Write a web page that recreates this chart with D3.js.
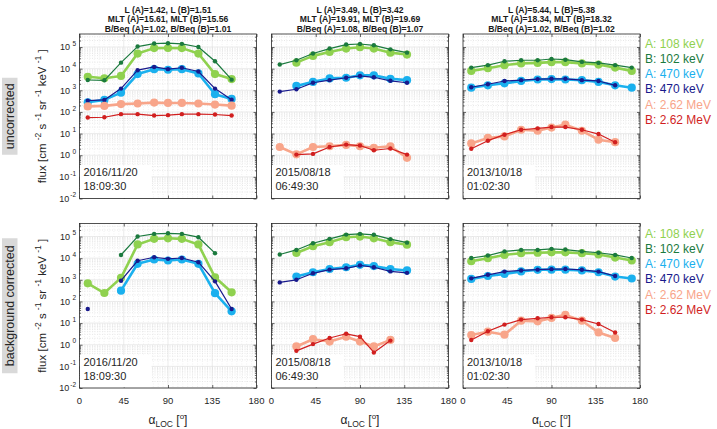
<!DOCTYPE html>
<html>
<head>
<meta charset="utf-8">
<script src="https://cdn.jsdelivr.net/npm/d3@7"></script>
<style>
  body { margin: 0; background: #fff; }
  text { font-family: "Liberation Sans", Arial, Helvetica, sans-serif; }
</style>
</head>
<body>
<div id="chart"></div>
<script>
// pitch angle bins [deg]
const pitchAngles = [8.4, 25.3, 42.2, 59.1, 75.9, 90, 104.1, 120.9, 137.8, 154.7, 171.6];

const seriesNames = ["A: 108 keV", "B: 102 keV", "A: 470 keV", "B: 470 keV", "A: 2.62 MeV", "B: 2.62 MeV"];
const seriesColors = ["#8fd14f", "#1b7a3e", "#1ab0ee", "#191a8c", "#f8a58a", "#d11f1f"];
const seriesProbe = ["A", "B", "A", "B", "A", "B"];

const xTicks = [0, 45, 90, 135, 180];
const yExponents = [-2, -1, 0, 1, 2, 3, 4, 5];

const titles = [
  ["L (A)=1.42, L (B)=1.51", "MLT (A)=15.61, MLT (B)=15.56", "B/Beq (A)=1.02, B/Beq (B)=1.01"],
  ["L (A)=3.49, L (B)=3.42", "MLT (A)=19.91, MLT (B)=19.69", "B/Beq (A)=1.08, B/Beq (B)=1.07"],
  ["L (A)=5.44, L (B)=5.38", "MLT (A)=18.34, MLT (B)=18.32", "B/Beq (A)=1.02, B/Beq (B)=1.02"]
];
const dates = [["2016/11/20", "18:09:30"], ["2015/08/18", "06:49:30"], ["2013/10/18", "01:02:30"]];
const rowLabels = ["uncorrected", "background corrected"];

// flux per series (rows in seriesNames order), null = no value
const uncorr2016 = [
  [4.2e3, 3.6e3, 4.6e3, 5.0e4, 8.9e4, 9.0e4, 8.9e4, 5.0e4, 5.6e3, 3.3e3],
  [3.0e3, 2.9e3, 1.9e4, 1.05e5, 1.45e5, 1.5e5, 1.4e5, 1.0e5, 2.2e4, 3.1e3],
  [280, 360, 780, 5.6e3, 9.5e3, 8.9e3, 9.5e3, 6.0e3, 660, 400],
  [330, 360, 1.2e3, 8.5e3, 1.2e4, 9.5e3, 1.1e4, 7.4e3, 1.2e3, 370],
  [180, 190, 230, 245, 270, 260, 260, 245, 220, 195],
  [55, 57, 79, 79, 68, 71, 79, 79, 76, 68]
];
const uncorr2015 = [
  [null, 1.9e4, 3.9e4, 5.9e4, 8.5e4, 9.8e4, 8.5e4, 5.5e4, 4.5e4],
  [1.55e4, 2.45e4, 5.0e4, 8.5e4, 1.3e5, 1.38e5, 1.2e5, 7.8e4, 5.5e4],
  [null, 1.6e3, 2.45e3, 3.55e3, 3.8e3, 4.9e3, 4.9e3, 3.4e3, 2.95e3],
  [870, 1.12e3, 2.24e3, 2.95e3, 3.8e3, 4.6e3, 4.0e3, 2.75e3, 2.24e3],
  [2.4, 1.1, 2.4, 2.6, 3.0, 2.6, 2.2, 2.6, 0.76],
  [null, 1.07, 1.15, 2.4, 3.1, 2.8, 1.7, 2.05, 1.07]
];
const uncorr2013 = [
  [7.9e3, 1.05e4, 1.45e4, 1.75e4, 1.85e4, 2.0e4, 2.0e4, 1.75e4, 1.55e4, 1.12e4, 7.9e3],
  [1.12e4, 1.45e4, 2.2e4, 2.45e4, 2.45e4, 2.8e4, 2.6e4, 2.05e4, 1.85e4, 1.45e4, 1.12e4],
  [1.32e3, 1.7e3, 2.1e3, 2.7e3, 3.15e3, 3.3e3, 3.15e3, 2.95e3, 2.45e3, 1.7e3, 1.32e3],
  [1.38e3, 1.9e3, 2.7e3, 2.95e3, 3.3e3, 3.4e3, 3.4e3, 2.95e3, 2.7e3, 1.7e3],
  [3.5, 6.3, 7.4, 15, 13.5, 19, 26, 13.5, 5.2, 4.0],
  [2.0, 4.7, 8.9, 15, 17.4, 20, 20, 15, 9.5, 4.0]
];
const corr2016 = [
  [690, 245, 1.23e3, 4.3e4, 7.8e4, 8.3e4, 7.8e4, 4.3e4, 1.3e3, 265],
  [null, null, 1.4e4, 1.0e5, 1.32e5, 1.41e5, 1.32e5, 9.3e4, 1.7e4],
  [null, null, 316, 5.5e3, 8.7e3, 7.8e3, 8.7e3, 5.5e3, 240, 35],
  [45, null, 910, 7.6e3, 1.1e4, 9.3e3, 1.02e4, 6.5e3, 850, 45],
  [],
  []
];
const corr2015 = [
  [null, 1.74e4, 3.55e4, 5.5e4, 9.3e4, 1.0e5, 8.3e4, 5.5e4, 4.2e4],
  [1.48e4, 2.4e4, 4.9e4, 7.8e4, 1.23e5, 1.32e5, 1.2e5, 7.6e4, 5.2e4],
  [null, 1.41e3, 2.24e3, 3.15e3, 3.8e3, 4.9e3, 4.3e3, 3.15e3, 2.7e3],
  [760, 1.0e3, 2.0e3, 2.95e3, 3.4e3, 4.6e3, 3.8e3, 2.45e3, 2.1e3],
  [null, 0.83, 1.8, 1.4, 2.35, 1.4, 0.83, 1.66],
  [null, 0.52, 1.07, 2.05, 3.2, 2.35, 0.44, 1.55]
];
const corr2013 = [
  [7.2e3, 1.0e4, 1.41e4, 1.7e4, 1.78e4, 1.86e4, 1.86e4, 1.7e4, 1.48e4, 1.07e4, 7.8e3],
  [1.02e4, 1.32e4, 2.05e4, 2.4e4, 2.4e4, 2.7e4, 2.5e4, 2.05e4, 1.78e4, 1.41e4, 1.02e4],
  [1.1e3, 1.5e3, 1.86e3, 2.45e3, 2.9e3, 2.95e3, 2.95e3, 2.7e3, 2.24e3, 1.41e3, 1.15e3],
  [1.17e3, 1.7e3, 2.4e3, 2.7e3, 2.95e3, 3.1e3, 3.15e3, 2.9e3, 2.4e3, 1.5e3],
  [2.8, 4.0, 2.9, 12.9, 12, 17.4, 24, 12.9, 3.7, 2.05],
  [1.66, 4.2, 8.5, 14.5, 16.6, 18.6, 18.6, 14.5, 9.1, 3.7]
];

const panels = [[uncorr2016, uncorr2015, uncorr2013], [corr2016, corr2015, corr2013]];

const width = 717, height = 429;
const colLeft = [79.5, 271.5, 463];
const panelW = 177;
const rowTop = [34, 223.5];
const panelH = 164.5;
const frameColor = "#262626";

const svg = d3.select("#chart").append("svg")
  .attr("width", width)
  .attr("height", height);

const x = d3.scaleLinear().domain([0, 180]).range([0, panelW]);
const y = d3.scaleLog().domain([1e-2, 4e5]).range([panelH, 0]);

const minorY = [];
yExponents.forEach(e => { for (let k = 2; k <= 9; k++) { const v = k * Math.pow(10, e); if (v < 4e5) minorY.push(v); } });
const minorX = d3.range(5, 180, 5).filter(v => v % 45 !== 0);

const line = d3.line()
  .defined(d => d.v != null)
  .x(d => x(d.a))
  .y(d => y(d.v));

panels.forEach((row, r) => {
  row.forEach((data, c) => {
    const g = svg.append("g").attr("transform", `translate(${colLeft[c]},${rowTop[r]})`);

    // minor grid
    g.append("g").selectAll("line").data(minorY).join("line")
      .attr("x1", 0).attr("x2", panelW)
      .attr("y1", d => y(d)).attr("y2", d => y(d))
      .attr("stroke", "#cfcfcf").attr("stroke-width", 0.5).attr("stroke-dasharray", "1,1.5");
    g.append("g").selectAll("line").data(minorX).join("line")
      .attr("y1", 0).attr("y2", panelH)
      .attr("x1", d => x(d)).attr("x2", d => x(d))
      .attr("stroke", "#e2e2e2").attr("stroke-width", 0.5).attr("stroke-dasharray", "1,1.5");

    // major grid
    g.append("g").selectAll("line").data(yExponents.map(e => Math.pow(10, e))).join("line")
      .attr("x1", 0).attr("x2", panelW)
      .attr("y1", d => y(d)).attr("y2", d => y(d))
      .attr("stroke", "#dedede").attr("stroke-width", 0.6);
    g.append("g").selectAll("line").data([45, 90, 135]).join("line")
      .attr("y1", 0).attr("y2", panelH)
      .attr("x1", d => x(d)).attr("x2", d => x(d))
      .attr("stroke", "#dedede").attr("stroke-width", 0.6);

    // ticks on all four sides, pointing inward
    const tickStyle = sel => {
      sel.select(".domain").remove();
      sel.selectAll("line").attr("stroke", frameColor).attr("stroke-width", 0.7);
      sel.selectAll("text").remove();
    };
    g.append("g").attr("transform", `translate(0,${panelH})`)
      .call(d3.axisBottom(x).tickValues(xTicks).tickSize(-3)).call(tickStyle);
    g.append("g")
      .call(d3.axisTop(x).tickValues(xTicks).tickSize(-3)).call(tickStyle);
    const yMajor = yExponents.map(e => Math.pow(10, e));
    g.append("g").call(d3.axisLeft(y).tickValues(yMajor).tickSize(-3)).call(tickStyle);
    g.append("g").attr("transform", `translate(${panelW},0)`)
      .call(d3.axisRight(y).tickValues(yMajor).tickSize(-3)).call(tickStyle);
    g.append("g").call(d3.axisLeft(y).tickValues(minorY).tickSize(-1.6)).call(tickStyle);
    g.append("g").attr("transform", `translate(${panelW},0)`)
      .call(d3.axisRight(y).tickValues(minorY).tickSize(-1.6)).call(tickStyle);

    // date box
    g.append("rect")
      .attr("x", 0.5).attr("y", panelH - 33)
      .attr("width", 71.5).attr("height", 32.5)
      .attr("fill", "#fff");
    g.append("text").attr("x", 4).attr("y", panelH - 22.5)
      .attr("font-size", 11).attr("fill", "#262626").text(dates[c][0]);
    g.append("text").attr("x", 4).attr("y", panelH - 8.5)
      .attr("font-size", 11).attr("fill", "#262626").text(dates[c][1]);

    // series
    data.forEach((vals, s) => {
      if (!vals.length) return;
      const pts = vals.map((v, i) => ({ a: pitchAngles[i], v: v }));
      const isA = seriesProbe[s] === "A";
      g.append("path")
        .datum(pts)
        .attr("d", line)
        .attr("fill", "none")
        .attr("stroke", seriesColors[s])
        .attr("stroke-width", isA ? 2.6 : 1.2)
        .attr("stroke-linejoin", "round");
      g.append("g").selectAll("circle")
        .data(pts.filter(d => d.v != null))
        .join("circle")
        .attr("cx", d => x(d.a))
        .attr("cy", d => y(d.v))
        .attr("r", isA ? 4.1 : 2.2)
        .attr("fill", seriesColors[s]);
    });

    // frame
    g.append("rect")
      .attr("width", panelW).attr("height", panelH)
      .attr("fill", "none").attr("stroke", frameColor).attr("stroke-width", 0.8);

    // y tick labels on the left column
    if (c === 0) {
      const lab = g.append("g").selectAll("text").data(yExponents).join("text")
        .attr("x", -3.5)
        .attr("y", d => y(Math.pow(10, d)) + 3.2)
        .attr("text-anchor", "end")
        .attr("font-size", 9)
        .attr("fill", "#262626");
      lab.append("tspan").text("10");
      lab.append("tspan").attr("dy", -4.5).attr("dx", 1).attr("font-size", 6.5)
        .text(d => d < 0 ? String(d) : "\u2009" + d);
    }

    // x tick labels and axis label on the bottom row
    if (r === 1) {
      g.append("g").selectAll("text").data(xTicks).join("text")
        .attr("x", d => x(d))
        .attr("y", panelH + 15.5)
        .attr("text-anchor", "middle")
        .attr("font-size", 9.5)
        .attr("fill", "#262626")
        .text(d => d);
      const xl = g.append("text")
        .attr("x", panelW / 2).attr("y", panelH + 35.5)
        .attr("text-anchor", "middle")
        .attr("font-size", 12).attr("fill", "#262626");
      xl.append("tspan").text("\u03b1");
      xl.append("tspan").attr("dy", 3).attr("font-size", 8.5).text("LOC");
      xl.append("tspan").attr("dy", -3).text(" [");
      xl.append("tspan").attr("dy", -5).attr("font-size", 8).text("o");
      xl.append("tspan").attr("dy", 5).text("]");
    }

    // titles on the top row
    if (r === 0) {
      g.append("g").selectAll("text").data(titles[c]).join("text")
        .attr("x", panelW / 2)
        .attr("y", (d, i) => -21 + i * 9.3)
        .attr("text-anchor", "middle")
        .attr("font-size", 8.6)
        .attr("font-weight", "bold")
        .attr("fill", "#1a1a1a")
        .text(d => d);
    }
  });

  // y axis label
  const cy = rowTop[r] + panelH / 2;
  const yl = svg.append("text")
    .attr("transform", `translate(46,${cy}) rotate(-90)`)
    .attr("text-anchor", "middle")
    .attr("font-size", 11.5)
    .attr("fill", "#262626");
  const parts = [["flux [cm ", "-2"], [" s ", "-1"], [" sr ", "-1"], [" keV ", "-1"]];
  parts.forEach(p => {
    yl.append("tspan").text(p[0]);
    yl.append("tspan").attr("dy", -5).attr("font-size", 8.5).text(p[1]);
    yl.append("tspan").attr("dy", 5).text(" ");
  });
  yl.append("tspan").text("]");

  // row label in grey box
  const boxH = r === 0 ? 77 : 135;
  svg.append("rect")
    .attr("x", 2).attr("y", cy - boxH / 2)
    .attr("width", 15.5).attr("height", boxH)
    .attr("fill", "#d9d9d9");
  svg.append("text")
    .attr("transform", `translate(14,${cy}) rotate(-90)`)
    .attr("text-anchor", "middle")
    .attr("font-size", 12.5)
    .attr("fill", "#262626")
    .text(rowLabels[r]);

  // legend
  svg.append("g").selectAll("text").data(seriesNames).join("text")
    .attr("x", 645)
    .attr("y", (d, i) => (r === 0 ? 47.5 : 237.5) + i * 15.3)
    .attr("font-size", 12)
    .attr("fill", (d, i) => seriesColors[i])
    .text(d => d);
});
</script>
</body>
</html>
